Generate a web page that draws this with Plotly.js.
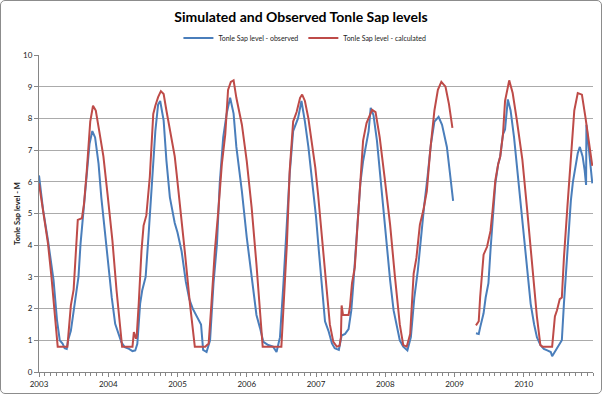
<!DOCTYPE html>
<html>
<head>
<meta charset="utf-8">
<script src="https://cdn.plot.ly/plotly-3.0.1.min.js"></script>
<style>
html,body{margin:0;padding:0;background:#fff;}
#wrap{position:relative;width:602px;height:394px;}
#chart{position:absolute;left:0;top:0;width:602px;height:394px;}
#frame{position:absolute;left:0;top:0;width:600px;height:392px;border:1px solid #8c8c8c;border-radius:5px;pointer-events:none;}
</style>
</head>
<body>
<div id="wrap"><div id="chart"></div><div id="frame"></div></div>
<script>
// Tick labels
var yearTicks = [2003, 2004, 2005, 2006, 2007, 2008, 2009, 2010];
var yearLabels = ["2003", "2004", "2005", "2006", "2007", "2008", "2009", "2010"];

// Observed series (decimal year, level in m)
var obsT = [2003.00,2003.06,2003.13,2003.21,2003.26,2003.30,2003.34,2003.37,2003.40,2003.42,2003.46,2003.50,2003.54,2003.57,2003.60,2003.64,2003.69,2003.73,2003.77,2003.81,2003.86,2003.90,2003.95,
2004.00,2004.05,2004.10,2004.15,2004.19,2004.24,2004.30,2004.35,2004.39,2004.42,2004.46,2004.49,2004.54,2004.58,2004.63,2004.68,2004.72,2004.75,2004.80,2004.84,2004.89,2004.92,2004.96,
2005.00,2005.06,2005.12,2005.17,2005.22,2005.29,2005.34,2005.37,2005.42,2005.47,2005.52,2005.57,2005.61,2005.66,2005.71,2005.76,2005.81,2005.85,2005.93,
2006.00,2006.07,2006.14,2006.19,2006.24,2006.31,2006.38,2006.43,2006.48,2006.53,2006.58,2006.62,2006.67,2006.74,2006.79,2006.84,2006.89,2006.96,
2007.00,2007.04,2007.08,2007.13,2007.18,2007.23,2007.27,2007.33,2007.37,2007.42,2007.47,2007.51,2007.54,2007.59,2007.64,2007.68,2007.73,2007.76,2007.79,2007.83,2007.88,2007.92,2007.97,
2008.02,2008.07,2008.12,2008.16,2008.21,2008.26,2008.32,2008.37,2008.42,2008.47,2008.52,2008.56,2008.61,2008.66,2008.71,2008.77,2008.82,2008.89,2008.93,2008.98,
2009.15,
2009.31,2009.35,2009.37,2009.42,2009.45,2009.49,2009.52,2009.55,2009.59,2009.63,2009.66,2009.70,2009.73,2009.77,2009.81,2009.86,2009.90,2009.95,
2010.00,2010.05,2010.10,2010.15,2010.19,2010.24,2010.29,2010.34,2010.39,2010.41,2010.46,2010.51,2010.55,2010.58,2010.63,2010.68,2010.71,2010.75,2010.78,2010.81,2010.85,2010.88,2010.90,2010.905,2010.95,2010.99];
var obsV = [6.2,5.1,4.15,2.9,1.63,1.0,0.9,0.75,0.73,1.0,1.3,1.94,2.6,3.0,4.05,5.1,6.25,7.2,7.6,7.4,6.57,5.5,4.46,
3.4,2.36,1.52,1.2,0.94,0.78,0.73,0.66,0.68,0.89,2.15,2.57,3.0,4.25,5.94,7.6,8.44,8.55,7.93,6.67,5.51,5.1,4.7,
4.4,3.8,2.85,2.3,2.0,1.7,1.5,0.7,0.63,1.0,2.8,4.05,5.95,7.4,8.15,8.65,8.15,7.1,5.7,
4.25,3.0,1.8,1.4,0.95,0.85,0.8,0.63,1.1,2.8,4.8,6.25,7.6,8.0,8.55,7.9,7.1,5.7,
4.9,3.85,2.8,1.6,1.3,0.9,0.75,0.7,1.15,1.2,1.35,1.95,2.8,4.25,5.95,6.65,7.2,7.6,8.33,8.1,7.3,6.35,5.1,
4.05,2.9,1.95,1.5,1.0,0.8,0.68,1.1,2.35,3.2,4.35,5.2,6.15,7.2,7.9,8.05,7.8,7.1,6.35,5.4,
null,
1.22,1.2,1.4,1.85,2.35,2.8,3.85,4.9,5.95,6.55,6.8,7.5,7.65,8.6,8.25,7.4,6.55,5.4,
4.25,3.2,2.15,1.5,1.1,0.85,0.73,0.68,0.63,0.5,0.68,0.85,1.0,2.15,3.85,5.4,6.0,6.45,6.9,7.1,6.8,6.35,5.9,7.8,6.9,5.95];

// Calculated series (decimal year, level in m)
var calT = [2003.00,2003.06,2003.13,2003.18,2003.23,2003.27,2003.41,2003.44,2003.46,2003.50,2003.53,2003.55,2003.56,2003.62,2003.65,2003.69,2003.74,2003.78,2003.82,2003.87,2003.93,2003.99,
2004.06,2004.12,2004.17,2004.20,2004.35,2004.37,2004.40,2004.41,2004.44,2004.48,2004.51,2004.55,2004.60,2004.65,2004.68,2004.72,2004.76,2004.80,2004.84,2004.92,2004.96,2004.99,
2005.04,2005.11,2005.18,2005.25,2005.40,2005.45,2005.49,2005.54,2005.59,2005.64,2005.69,2005.73,2005.77,2005.81,2005.85,2005.93,
2006.00,2006.07,2006.14,2006.19,2006.23,2006.50,2006.53,2006.58,2006.62,2006.67,2006.72,2006.77,2006.80,2006.84,2006.89,2006.96,2006.99,
2007.03,2007.06,2007.13,2007.20,2007.25,2007.30,2007.34,2007.36,2007.37,2007.39,2007.47,2007.49,2007.52,2007.56,2007.60,2007.64,2007.68,2007.73,2007.78,2007.81,2007.86,2007.92,2007.99,
2008.07,2008.14,2008.21,2008.26,2008.31,2008.36,2008.41,2008.45,2008.50,2008.55,2008.60,2008.65,2008.71,2008.76,2008.81,2008.87,2008.92,2008.97,
2009.15,
2009.31,2009.35,2009.37,2009.42,2009.47,2009.52,2009.55,2009.59,2009.63,2009.66,2009.70,2009.73,2009.79,2009.84,2009.90,2009.98,
2010.05,2010.12,2010.19,2010.24,2010.27,2010.41,2010.45,2010.48,2010.52,2010.55,2010.58,2010.63,2010.68,2010.73,2010.78,2010.84,2010.89,2010.94,2010.99];
var calV = [5.95,5.1,4.05,3.0,1.73,0.8,0.8,1.73,2.1,2.6,3.83,4.25,4.8,4.85,5.3,6.35,7.9,8.4,8.25,7.6,6.8,5.6,
4.15,2.57,1.52,0.8,0.8,1.26,1.05,1.1,2.15,3.83,4.62,4.94,6.15,8.14,8.4,8.67,8.86,8.77,8.25,7.3,6.8,6.2,
5.2,3.7,2.15,0.8,0.8,0.9,2.15,3.85,5.1,6.55,7.5,8.9,9.15,9.2,8.65,7.8,
6.65,5.2,3.4,2.05,0.8,0.8,2.15,4.05,6.35,7.9,8.2,8.65,8.75,8.55,8.0,6.9,6.45,
5.6,4.9,3.2,1.5,0.95,0.8,0.83,1.1,2.1,1.8,1.8,2.05,2.8,3.3,4.65,5.95,7.3,7.85,8.15,8.27,8.2,7.4,6.15,
4.65,3.0,1.5,0.85,0.8,1.2,3.1,3.6,4.65,5.1,5.7,7.0,8.25,8.9,9.15,9.0,8.45,7.7,
null,
1.47,1.6,2.35,3.7,3.95,4.45,5.1,6.05,6.55,6.8,7.5,8.55,9.2,8.8,7.95,6.7,
5.1,3.4,1.75,0.85,0.8,0.8,1.75,1.95,2.3,2.35,3.6,5.2,6.7,8.25,8.8,8.75,8.05,7.3,6.5];

var FONT = "Lato, 'Open Sans', sans-serif";

var traces = [
  {x: obsT, y: obsV, type: 'scatter', mode: 'lines', name: 'Tonle Sap level - observed',
   line: {color: '#4a7ebb', width: 2}, connectgaps: false},
  {x: calT, y: calV, type: 'scatter', mode: 'lines', name: 'Tonle Sap level - calculated',
   line: {color: '#be4b48', width: 2}, connectgaps: false}
];

var layout = {
  width: 602, height: 394,
  margin: {l: 39, r: 9, t: 55, b: 22, pad: 0},
  paper_bgcolor: '#ffffff', plot_bgcolor: '#ffffff',
  font: {family: FONT, size: 8, color: '#222'},
  title: {text: 'Simulated and Observed Tonle Sap levels', x: 0.5, xanchor: 'center',
          y: 0.957, yanchor: 'middle', font: {family: FONT, size: 14, weight: 700, color: '#000'}},
  showlegend: true,
  legend: {orientation: 'h', x: 0.48, xanchor: 'center', y: 1.054, yanchor: 'middle',
           font: {family: FONT, size: 7, color: '#222'}, bgcolor: 'rgba(0,0,0,0)'},
  xaxis: {range: [2003, 2011], tickmode: 'array', tickvals: yearTicks, ticktext: yearLabels,
          showgrid: false, zeroline: false, showline: true, linecolor: '#868686', linewidth: 1,
          ticks: 'outside', ticklen: 4, tickcolor: '#868686',
          minor: {ticks: 'outside', ticklen: 3, tick0: 2003, dtick: 1/12, tickcolor: '#868686', showgrid: false},
          tickfont: {family: FONT, size: 8, color: '#222'}, fixedrange: true},
  yaxis: {range: [0, 10], dtick: 1, tick0: 0, showgrid: true, gridcolor: '#ababab', gridwidth: 1,
          zeroline: false, showline: true, linecolor: '#868686', linewidth: 1,
          ticks: 'outside', ticklen: 4, tickcolor: '#868686',
          tickfont: {family: FONT, size: 8, color: '#222'},
          title: {text: 'Tonle Sap level - M', standoff: 1, font: {family: FONT, size: 7.5, weight: 700, color: '#1a1a1a'}},
          fixedrange: true}
};

Plotly.newPlot('chart', traces, layout, {displayModeBar: false, staticPlot: true});
</script>
</body>
</html>
